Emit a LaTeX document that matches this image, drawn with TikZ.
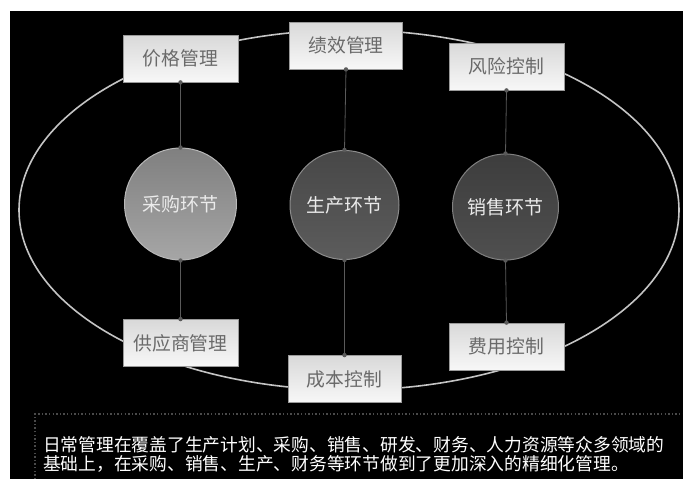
\documentclass[tikz,border=0pt]{standalone}
\usepackage{fontspec}
\setmainfont{Noto Sans CJK SC}
\usetikzlibrary{calc}
\definecolor{ringcol}{HTML}{C4C4C4}
\definecolor{boxtext}{HTML}{6A6A6A}
\definecolor{boxedge}{HTML}{9A9A9A}
\definecolor{linkcol}{HTML}{5A5A5A}
\definecolor{dotcol}{HTML}{4A4A4A}
\tikzset{
  x=1pt, y=-1pt,
  mgmtbox/.style={draw=boxedge, line width=0.8pt, top color=white!85!black, bottom color=white!97!black,
    minimum width=115pt, minimum height=47pt, inner sep=0pt, font=\fontsize{18.8}{20}\selectfont, text=boxtext},
  ballA/.style={circle, draw=white!72!black, line width=1pt, top color=white!50!black, bottom color=white!65!black,
    minimum size=112pt, inner sep=0pt, font=\fontsize{19}{20}\selectfont, text=white!92!black},
  ballB/.style={circle, draw=white!55!black, line width=1pt, top color=white!28!black, bottom color=white!36!black,
    minimum size=109pt, inner sep=0pt, font=\fontsize{19}{20}\selectfont, text=white!92!black},
  ballC/.style={circle, draw=white!50!black, line width=1pt, top color=white!24!black, bottom color=white!31!black,
    minimum size=106pt, inner sep=0pt, font=\fontsize{19}{20}\selectfont, text=white!92!black},
  link/.style={draw=linkcol, line width=0.8pt},
  enddot/.style={fill=linkcol},
  notetext/.style={anchor=base west, inner sep=0pt, text=white, font=\fontsize{17.75}{20}\selectfont}
}
\begin{document}
\begin{tikzpicture}
\useasboundingbox (0,0) rectangle (683,479);
\clip (0,0) rectangle (683,479);
\fill[white] (0,0) rectangle (683,479);
\fill[black] (10,11) rectangle (683,479);
% ring
\draw[ringcol, line width=1.6pt] (349,210) ellipse [x radius=330pt, y radius=180pt];
% boxes
\node[mgmtbox] (jg) at (180.5,58.5) {价格管理};
\node[mgmtbox, minimum width=113pt] (jx) at (346,45.5) {绩效管理};
\node[mgmtbox] (fx) at (506.5,66.5) {风险控制};
\node[mgmtbox] (gy) at (180.5,343) {供应商管理};
\node[mgmtbox, minimum width=113pt] (cb) at (344.5,379) {成本控制};
\node[mgmtbox] (fy) at (506.5,346.5) {费用控制};
% balls
\node[ballA] (cg) at (180.5,204) {采购环节};
\node[ballB] (sc) at (344.5,205) {生产环节};
\node[ballC] (xs) at (505.5,207) {销售环节};
% links
\foreach \b/\c in {jg/cg, jx/sc, fx/xs}{
  \draw[link] (\b.south) -- (\c.north);
  \fill[enddot] (\b.south) circle (2.2pt);
  \fill[enddot] (\c.north) circle (2.2pt);
}
\foreach \b/\c in {gy/cg, cb/sc, fy/xs}{
  \draw[link] (\c.south) -- (\b.north);
  \fill[enddot] (\b.north) circle (2.2pt);
  \fill[enddot] (\c.south) circle (2.2pt);
}
% note box
\draw[dotcol, line width=1.4pt, dash pattern=on 1.4pt off 2.2pt] (35,490) -- (35,414) -- (700,414);
\node[notetext] (n1) at (43,451) {日常管理在覆盖了生产计划、采购、销售、研发、财务、人力资源等众多领域的};
\node[notetext] (n2) at (43,470.5) {基础上，在采购、销售、生产、财务等环节做到了更加深入的精细化管理。};
\end{tikzpicture}
\end{document}
